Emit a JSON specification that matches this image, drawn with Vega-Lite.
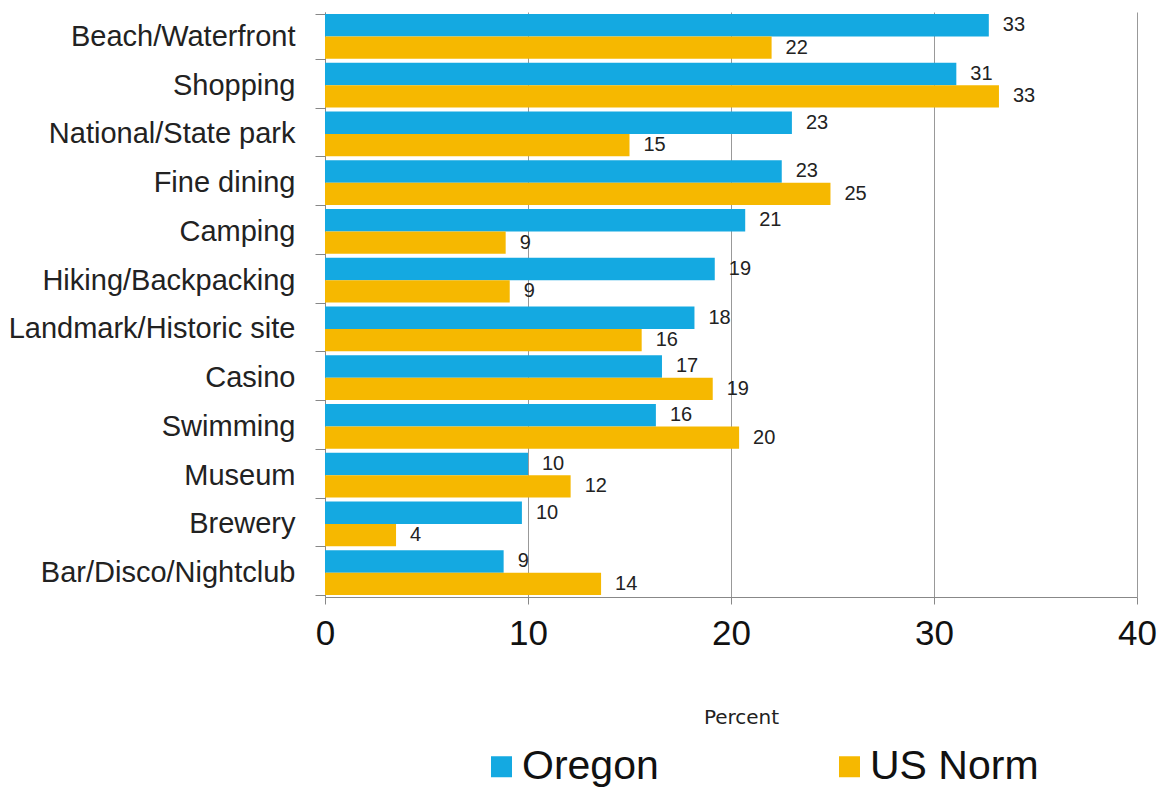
{
  "$schema": "https://vega.github.io/schema/vega-lite/v6.json",
  "autosize": {"type": "none"},
  "padding": {"left": 325, "top": 12, "right": 22, "bottom": 195},
  "width": 812,
  "height": 585,
  "background": "white",
  "config": {"view": {"stroke": null}, "font": "Liberation Sans"},
  "data": {"values": [
    {"activity": "Beach/Waterfront", "series": "Oregon", "value": 32.7, "label": "33"},
    {"activity": "Beach/Waterfront", "series": "US Norm", "value": 22.0, "label": "22"},
    {"activity": "Shopping", "series": "Oregon", "value": 31.1, "label": "31"},
    {"activity": "Shopping", "series": "US Norm", "value": 33.2, "label": "33"},
    {"activity": "National/State park", "series": "Oregon", "value": 23.0, "label": "23"},
    {"activity": "National/State park", "series": "US Norm", "value": 15.0, "label": "15"},
    {"activity": "Fine dining", "series": "Oregon", "value": 22.5, "label": "23"},
    {"activity": "Fine dining", "series": "US Norm", "value": 24.9, "label": "25"},
    {"activity": "Camping", "series": "Oregon", "value": 20.7, "label": "21"},
    {"activity": "Camping", "series": "US Norm", "value": 8.9, "label": "9"},
    {"activity": "Hiking/Backpacking", "series": "Oregon", "value": 19.2, "label": "19"},
    {"activity": "Hiking/Backpacking", "series": "US Norm", "value": 9.1, "label": "9"},
    {"activity": "Landmark/Historic site", "series": "Oregon", "value": 18.2, "label": "18"},
    {"activity": "Landmark/Historic site", "series": "US Norm", "value": 15.6, "label": "16"},
    {"activity": "Casino", "series": "Oregon", "value": 16.6, "label": "17"},
    {"activity": "Casino", "series": "US Norm", "value": 19.1, "label": "19"},
    {"activity": "Swimming", "series": "Oregon", "value": 16.3, "label": "16"},
    {"activity": "Swimming", "series": "US Norm", "value": 20.4, "label": "20"},
    {"activity": "Museum", "series": "Oregon", "value": 10.0, "label": "10"},
    {"activity": "Museum", "series": "US Norm", "value": 12.1, "label": "12"},
    {"activity": "Brewery", "series": "Oregon", "value": 9.7, "label": "10"},
    {"activity": "Brewery", "series": "US Norm", "value": 3.5, "label": "4"},
    {"activity": "Bar/Disco/Nightclub", "series": "Oregon", "value": 8.8, "label": "9"},
    {"activity": "Bar/Disco/Nightclub", "series": "US Norm", "value": 13.6, "label": "14"}
  ]},
  "encoding": {
    "y": {
      "field": "activity", "type": "nominal", "sort": null,
      "scale": {"paddingInner": 0.08, "paddingOuter": 0.04},
      "axis": {
        "title": null, "labelFontSize": 29, "labelColor": "#222", "labelPadding": 20,
        "tickSize": 10, "tickBand": "extent", "tickColor": "#888", "domainColor": "#888",
        "labelLimit": 400
      }
    },
    "x": {
      "field": "value", "type": "quantitative",
      "scale": {"domain": [0, 40], "nice": false},
      "axis": {
        "title": "Percent", "titleFont": "DejaVu Sans", "titleFontSize": 20, "titleFontWeight": "normal", "titleColor": "#222",
        "titlePadding": 56, "titleX": 416, "titleAlign": "center",
        "values": [0, 10, 20, 30, 40], "labelFontSize": 35, "labelColor": "#111",
        "labelPadding": 12, "tickSize": 7, "tickColor": "#888", "domainColor": "#888",
        "grid": true, "gridColor": "#999", "gridWidth": 1, "labelFlush": false
      }
    },
    "yOffset": {"field": "series", "type": "nominal", "sort": ["Oregon", "US Norm"]}
  },
  "layer": [
    {
      "mark": {"type": "bar", "stroke": null},
      "encoding": {
        "color": {
          "field": "series", "type": "nominal",
          "scale": {"domain": ["Oregon", "US Norm"], "range": ["#14a9e1", "#f6b800"]},
          "legend": {
            "title": null, "orient": "none", "legendX": 156, "legendY": 734,
            "direction": "horizontal", "columns": 2, "columnPadding": 170,
            "symbolType": "square", "symbolSize": 441, "symbolStrokeWidth": 0,
            "labelFontSize": 41, "labelColor": "#111", "labelOffset": 0, "labelLimit": 300
          }
        }
      }
    },
    {
      "mark": {"type": "text", "align": "left", "dx": 14, "fontSize": 20, "color": "#222"},
      "encoding": {"text": {"field": "label"}}
    }
  ]
}
